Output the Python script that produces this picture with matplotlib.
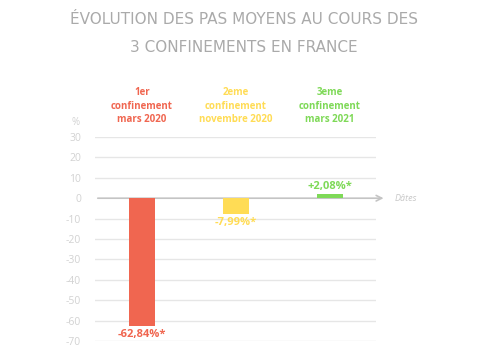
import matplotlib.pyplot as plt
from matplotlib.transforms import blended_transform_factory

plt.rcParams['axes.unicode_minus'] = False

categories = ["1er\nconfinement\nmars 2020", "2eme\nconfinement\nnovembre 2020", "3eme\nconfinement\nmars 2021"]
values = [-62.84, -7.99, 2.08]
value_labels = ["-62,84%*", "-7,99%*", "+2,08%*"]
colors = ["#F06650", "#FFDC55", "#7ED957"]
yticks = [30, 20, 10, 0, -10, -20, -30, -40, -50, -60, -70]

W, H = 487, 355
fig = plt.figure(figsize=(W/100, H/100), dpi=100)
ax = fig.add_axes([95/W, 1-341/H, 281/W, 204/H])
ax.set_xlim(-0.5, 2.49)
ax.set_ylim(-70, 30)
for s in ax.spines.values():
    s.set_visible(False)
ax.set_xticks([])
ax.set_yticks(yticks)
ax.tick_params(axis='y', length=0, pad=10, labelsize=7.5, labelcolor="#d2d2d2")
for lab in ax.get_yticklabels():
    lab.set_fontfamily("Open Sans")
for t in yticks:
    if t != 0:
        ax.axhline(t, color="#e6e6e6", lw=1.0, zorder=0)

x = list(range(len(values)))
ax.bar(x, values, width=0.28, color=colors, zorder=3)

# zero axis with arrow
ax.annotate("", xy=(2.6, 0), xytext=(-0.5, 0), xycoords='data',
            arrowprops=dict(arrowstyle='->', color="#c4c4c4", lw=1.2, mutation_scale=10),
            annotation_clip=False, zorder=2)
ax.text(2.69, 0, "Dâtes", fontsize=6.5, style='italic', color="#c8c8c8",
        va='center', ha='left', family="Open Sans")
ax.text(-0.66, 37, "%", fontsize=7, color="#d2d2d2", va='center', ha='right', family="Open Sans")

for xi, v, lab, c in zip(x, values, value_labels, colors):
    if v < 0:
        ax.text(xi, v - 1.2, lab, ha='center', va='top', fontsize=8, fontweight='bold',
                color=c, family="Open Sans")
    else:
        ax.text(xi, v + 1.2, lab, ha='center', va='bottom', fontsize=8, fontweight='bold',
                color=c, family="Open Sans")

tr = blended_transform_factory(ax.transData, fig.transFigure)
for xi, cat, c in zip(x, categories, colors):
    ax.text(xi, 1 - 106/H, cat, ha='center', va='center', fontsize=7,
            fontweight='bold', color=c, family="Open Sans", linespacing=1.3,
            transform=tr)

fig.text(0.5, 1-20/H, "ÉVOLUTION DES PAS MOYENS AU COURS DES", ha='center', va='center',
         fontsize=11, color="#aaaaaa", family="DejaVu Sans")
fig.text(0.5, 1-48/H, "3 CONFINEMENTS EN FRANCE", ha='center', va='center',
         fontsize=11, color="#aaaaaa", family="DejaVu Sans")

fig.savefig("out.png", dpi=100)
